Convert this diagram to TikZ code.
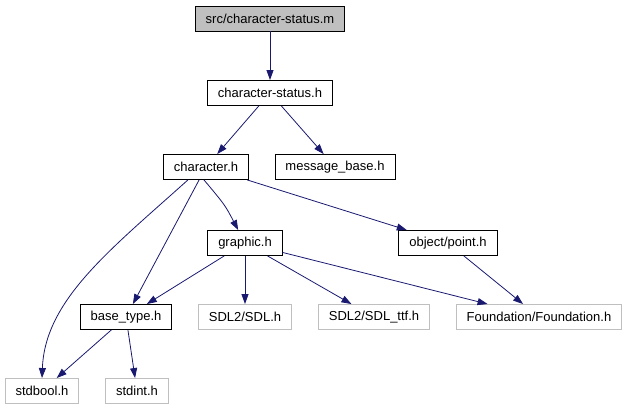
\documentclass[tikz,border=0pt]{standalone}
\usepackage{fontspec}
\setmainfont{Liberation Sans}
\usetikzlibrary{arrows.meta}
\definecolor{edgeblue}{RGB}{25,25,112}
\definecolor{boxgray}{RGB}{191,191,191}

\begin{document}
\begin{tikzpicture}[
    x=1pt, y=-1pt,
    >={Triangle[length=10pt,width=7pt]},
    file/.style={rectangle, draw=black, fill=white, line width=0.9pt, minimum height=25pt, inner xsep=10.5pt, inner ysep=0pt},
    root/.style={file, fill=boxgray},
    ext/.style={rectangle, draw=boxgray, line width=0.9pt, minimum height=25pt, inner xsep=10.5pt, inner ysep=0pt},
    dep/.style={->, draw=edgeblue, line width=0.8pt},
    every node/.style={font=\fontsize{13}{15}\selectfont}
]
\useasboundingbox (0,0) rectangle (627,411);

\node[root] (main) at (270,18.5) {src/character-status.m};
\node[file] (status) at (270,93) {character-status.h};
\node[file] (character) at (206,167) {character.h};
\node[file] (message) at (335,167) {message\_base.h};
\node[file] (graphic) at (245,243) {graphic.h};
\node[file] (point) at (448,243) {object/point.h};
\node[file] (basetype) at (126,317) {base\_type.h};
\node[ext] (sdl) at (245,317) {SDL2/SDL.h};
\node[ext] (sdlttf) at (374,317) {SDL2/SDL\_ttf.h};
\node[ext] (foundation) at (539,317) {Foundation/Foundation.h};
\node[ext] (stdbool) at (42,391) {stdbool.h};
\node[ext] (stdint) at (137,391) {stdint.h};

\draw[dep] (main) -- (status);
\draw[dep] (status) -- (character);
\draw[dep] (status) -- (message);

\draw[dep] ([xshift=25pt]character.south west) .. controls (110,250) and (45,300) .. (stdbool.north);
\draw[dep] (character) -- (basetype);
\draw[dep] ([xshift=-2pt]character.south) .. controls (225,205) .. (graphic);
\draw[dep] (character) -- (point);

\draw[dep] (graphic) -- (basetype);
\draw[dep] (graphic) -- (sdl);
\draw[dep] (graphic) -- (sdlttf);
\draw[dep] (graphic) -- (foundation);
\draw[dep] (point) -- (foundation);

\draw[dep] (basetype) -- (stdbool);
\draw[dep] (basetype) -- (stdint);

\end{tikzpicture}
\end{document}
